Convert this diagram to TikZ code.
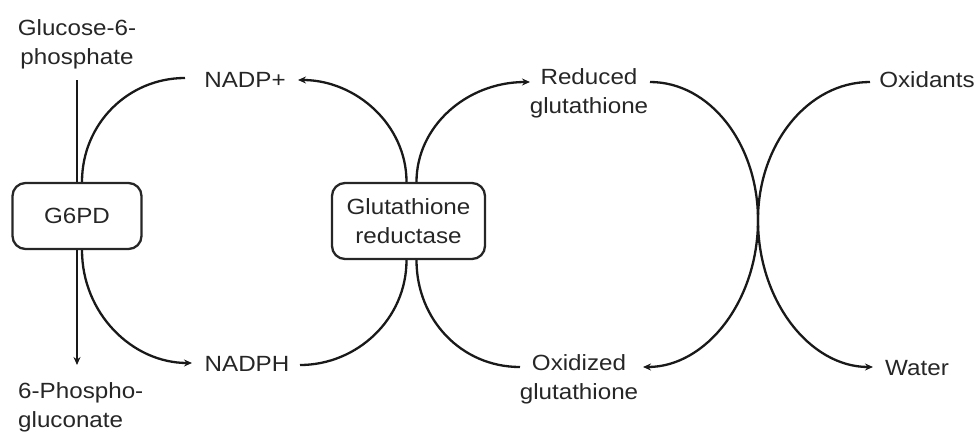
\documentclass[tikz,border=0pt]{standalone}
\usepackage{fontspec}
\setmainfont{Liberation Sans}[FakeStretch=1.1]
\usetikzlibrary{arrows.meta}
\begin{document}
\begin{tikzpicture}[x=1pt,y=-1pt,
  lbl/.style={font=\fontsize{22}{29}\selectfont, text=black!85, inner sep=0pt, align=center},
  enz/.style={draw=black!85, rounded corners=13pt, line width=2.3pt, font=\fontsize{22}{29}\selectfont, text=black!85, align=center, inner sep=0pt},
  link/.style={line width=2.3pt, draw=black!90},
  arr/.style={link, -{Stealth[length=8pt,width=7pt]}}]
\useasboundingbox (0,0) rectangle (978,432);
% enzymes
\node[enz, minimum width=129pt, minimum height=66pt] (g6pd) at (77,216) {G6PD};
\node[enz, minimum width=153pt, minimum height=76pt] (gr) at (408.5,221) {Glutathione\\reductase};
% labels
\node[lbl] (glc) at (77,44) {Glucose-6-\\phosphate};
\node[lbl, align=left, anchor=west] (pg) at (18,407) {6-Phospho-\\gluconate};
\node[lbl] (nadpp) at (245,80) {NADP+};
\node[lbl] (nadph) at (247,364) {NADPH};
\node[lbl] (red) at (589,93) {Reduced\\glutathione};
\node[lbl] (oxi) at (579,379) {Oxidized\\glutathione};
\node[lbl] (oxd) at (927,80) {Oxidants};
\node[lbl] (wat) at (917,368) {Water};
% end points
\coordinate (vtop) at (77,80);
\coordinate (vbot) at (77,365);
\coordinate (nadppL) at (185,78);
\coordinate (nadppR) at (298,80);
\coordinate (nadphL) at (192,363);
\coordinate (nadphR) at (300,365);
\coordinate (redL) at (530,82);
\coordinate (redR) at (650,82);
\coordinate (oxiL) at (520,367);
\coordinate (oxiR) at (643,367);
\coordinate (oxdL) at (870,82);
\coordinate (watL) at (873,367);
\coordinate (cross) at (758,220);
% G6PD
\draw[link] (vtop) -- (g6pd.north);
\draw[arr] (g6pd.south) -- (vbot);
\draw[link] ([xshift=5pt]g6pd.north) .. controls +(0,-58) and +(-57,0) .. (nadppL);
\draw[arr] ([xshift=5pt]g6pd.south) .. controls +(0,63) and +(-60,0) .. (nadphL);
% glutathione reductase
\draw[link] (nadphR) .. controls +(57,0) and +(0,59) .. ([xshift=-2pt]gr.south);
\draw[arr] ([xshift=-2pt]gr.north) .. controls +(0,-57) and +(58,0) .. (nadppR);
\draw[arr] ([xshift=8pt]gr.north) .. controls +(0,-55) and +(-64,0) .. (redL);
\draw[link] ([xshift=8pt]gr.south) .. controls +(0,59) and +(-59,0) .. (oxiL);
% oxidants
\draw[arr] (redR) .. controls +(60,0) and +(0,-76) .. (cross) .. controls +(0,81) and +(63,0) .. (oxiR);
\draw[arr] (oxdL) .. controls +(-62,0) and +(0,-76) .. (cross) .. controls +(0,81) and +(-63,0) .. (watL);
\end{tikzpicture}
\end{document}
